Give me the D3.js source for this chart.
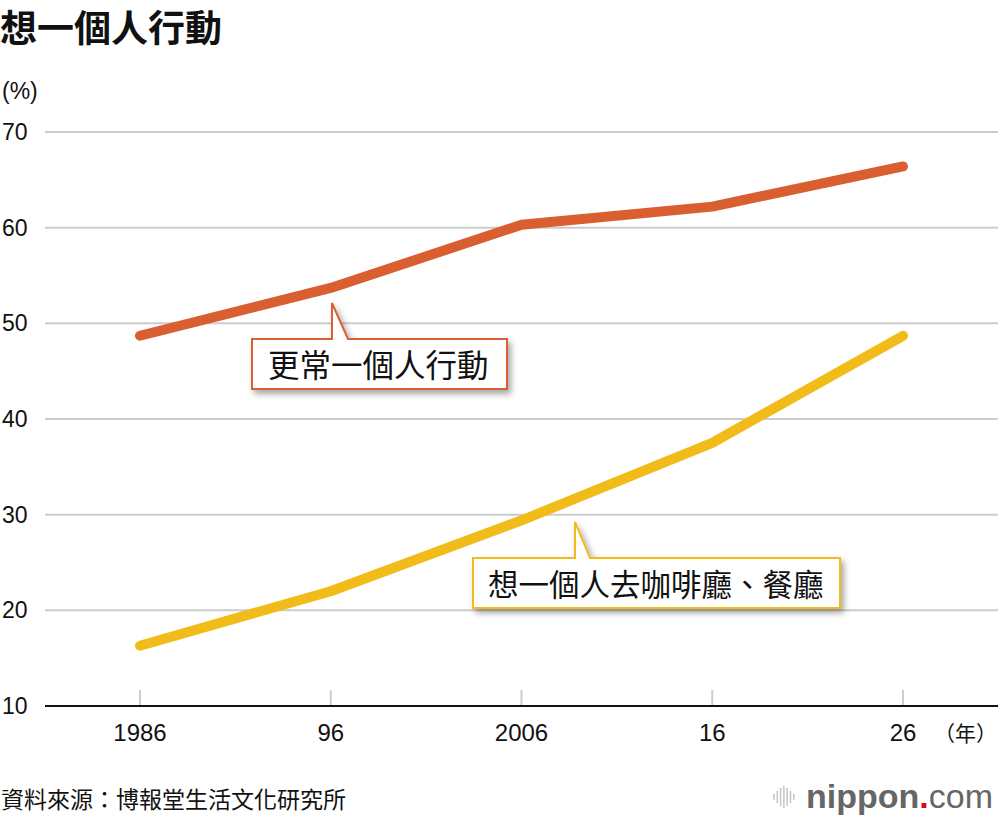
<!DOCTYPE html>
<html>
<head>
<meta charset="utf-8">
<script src="https://cdn.jsdelivr.net/npm/d3@7"></script>
<style>
  body { margin: 0; background: #fff; }
  text { font-family: "Liberation Sans", "Noto Sans CJK TC", sans-serif; }
  .cjk { font-family: "Noto Sans CJK TC", sans-serif; }
</style>
</head>
<body>
<div id="chart"></div>
<script>
const CANVAS_WIDTH  = 1000;
const CANVAS_HEIGHT = 820;

const PLOT_LEFT   = 45;
const PLOT_RIGHT  = 998;
const PLOT_TOP    = 132;
const PLOT_BOTTOM = 706;

const YEARS       = [1986, 1996, 2006, 2016, 2026];
const YEAR_LABELS = ["1986", "96", "2006", "16", "26"];
const Y_TICKS     = [10, 20, 30, 40, 50, 60, 70];

const ALONE_MORE   = [48.7, 53.7, 60.3, 62.2, 66.4];
const ALONE_CAFE   = [16.3, 22.0, 29.4, 37.5, 48.7];

const SERIES = [
  { name: "更常一個人行動", values: ALONE_MORE, color: "#da5f30" },
  { name: "想一個人去咖啡廳、餐廳", values: ALONE_CAFE, color: "#f1bb1a" }
];

const svg = d3.select("#chart")
  .append("svg")
  .attr("width", CANVAS_WIDTH)
  .attr("height", CANVAS_HEIGHT);

const defs = svg.append("defs");
const shadow = defs.append("filter")
  .attr("id", "shadow")
  .attr("x", "-20%").attr("y", "-30%")
  .attr("width", "140%").attr("height", "170%");
shadow.append("feDropShadow")
  .attr("dx", 3).attr("dy", 4)
  .attr("stdDeviation", 3)
  .attr("flood-color", "#000")
  .attr("flood-opacity", 0.35);

const xScale = d3.scalePoint()
  .domain(YEARS)
  .range([140, 903]);

const yScale = d3.scaleLinear()
  .domain([10, 70])
  .range([PLOT_BOTTOM, PLOT_TOP]);

// title
svg.append("text")
  .attr("class", "cjk")
  .attr("x", 0)
  .attr("y", 42)
  .attr("font-size", 37)
  .attr("font-weight", "bold")
  .attr("fill", "#111")
  .text("想一個人行動");

svg.append("text")
  .attr("x", 2)
  .attr("y", 99)
  .attr("font-size", 23)
  .attr("fill", "#111")
  .text("(%)");

// gridlines
svg.selectAll(".gridline")
  .data(Y_TICKS.filter(d => d > 10))
  .enter()
  .append("line")
  .attr("class", "gridline")
  .attr("x1", PLOT_LEFT)
  .attr("x2", PLOT_RIGHT)
  .attr("y1", d => yScale(d))
  .attr("y2", d => yScale(d))
  .attr("stroke", "#cccccc")
  .attr("stroke-width", 2);

svg.selectAll(".y-label")
  .data(Y_TICKS)
  .enter()
  .append("text")
  .attr("class", "y-label")
  .attr("x", 2)
  .attr("y", d => yScale(d) + 8)
  .attr("font-size", 23)
  .attr("fill", "#111")
  .text(d => d);

// x ticks
svg.selectAll(".x-tick")
  .data(YEARS)
  .enter()
  .append("line")
  .attr("class", "x-tick")
  .attr("x1", d => xScale(d))
  .attr("x2", d => xScale(d))
  .attr("y1", PLOT_BOTTOM - 16)
  .attr("y2", PLOT_BOTTOM)
  .attr("stroke", "#cccccc")
  .attr("stroke-width", 2);

svg.append("line")
  .attr("x1", PLOT_LEFT)
  .attr("x2", PLOT_RIGHT)
  .attr("y1", PLOT_BOTTOM)
  .attr("y2", PLOT_BOTTOM)
  .attr("stroke", "#111")
  .attr("stroke-width", 2);

svg.selectAll(".x-label")
  .data(YEARS)
  .enter()
  .append("text")
  .attr("class", "x-label")
  .attr("x", d => xScale(d))
  .attr("y", 741)
  .attr("text-anchor", "middle")
  .attr("font-size", 24)
  .attr("fill", "#111")
  .text((d, i) => YEAR_LABELS[i]);

svg.append("text")
  .attr("class", "cjk")
  .attr("x", 997)
  .attr("y", 741)
  .attr("text-anchor", "end")
  .attr("font-size", 21)
  .attr("fill", "#111")
  .text("（年）");

// lines
const line = d3.line()
  .x((d, i) => xScale(YEARS[i]))
  .y(d => yScale(d));

svg.selectAll(".series")
  .data(SERIES)
  .enter()
  .append("path")
  .attr("class", "series")
  .attr("d", d => line(d.values))
  .attr("fill", "none")
  .attr("stroke", d => d.color)
  .attr("stroke-width", 10)
  .attr("stroke-linecap", "round")
  .attr("stroke-linejoin", "round");

// callouts
function callout(left, top, right, bottom, tipX, tipY, baseRight, color, label, textX, textY, size) {
  const p = d3.path();
  p.moveTo(left, top);
  p.lineTo(tipX, top);
  p.lineTo(tipX, tipY);
  p.lineTo(baseRight, top);
  p.lineTo(right, top);
  p.lineTo(right, bottom);
  p.lineTo(left, bottom);
  p.closePath();
  svg.append("path")
    .attr("d", p.toString())
    .attr("fill", "#fff")
    .attr("stroke", color)
    .attr("stroke-width", 2)
    .attr("filter", "url(#shadow)");
  svg.append("text")
    .attr("class", "cjk")
    .attr("x", textX)
    .attr("y", textY)
    .attr("font-size", size)
    .attr("fill", "#111")
    .text(label);
}

callout(252, 339, 507, 389, 332, 303, 348, SERIES[0].color, SERIES[0].name, 268, 377, 31.5);
callout(473, 558, 840, 608, 575, 522, 590, SERIES[1].color, SERIES[1].name, 488, 596, 30.5);

// source
svg.append("text")
  .attr("class", "cjk")
  .attr("x", 1)
  .attr("y", 808)
  .attr("font-size", 23)
  .attr("fill", "#111")
  .text("資料來源：博報堂生活文化研究所");

// logo
const logo = svg.append("g");
[6, 12, 18, 22, 18, 12, 6].forEach((h, i) => {
  logo.append("line")
    .attr("x1", 774 + i * 3.3)
    .attr("x2", 774 + i * 3.3)
    .attr("y1", 797 - h / 2)
    .attr("y2", 797 + h / 2)
    .attr("stroke", "#c4c4c4")
    .attr("stroke-width", 1.5);
});
const logoText = svg.append("text")
  .attr("x", 806)
  .attr("y", 808)
  .attr("font-size", 34)
  .attr("font-family", "'Noto Sans', sans-serif")
  .attr("fill", "#666");
logoText.append("tspan").attr("font-weight", "bold").text("nippon");
logoText.append("tspan").attr("fill", "#e60012").attr("font-weight", "bold").text(".");
logoText.append("tspan").attr("font-weight", "300").text("com");
</script>
</body>
</html>
